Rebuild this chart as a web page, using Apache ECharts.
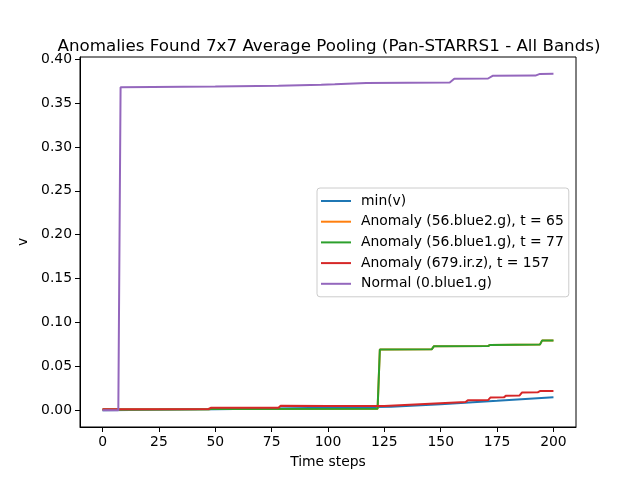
<!doctype html>
<html lang="en">
<head>
    <meta charset="UTF-8">
    <title>Anomalies Found 7x7 Average Pooling</title>
    <script src="https://cdn.jsdelivr.net/npm/echarts@6/dist/echarts.min.js"></script>
    <style>
        html, body { margin: 0; padding: 0; background: #fff; }
        #main { width: 640px; height: 480px; }
    </style>
</head>
<body>
<div id="main"></div>
<script type="text/javascript">
// data (time step, v)
var xTicks = [0, 25, 50, 75, 100, 125, 150, 175, 200];
var yTicks = [0, 0.05, 0.10, 0.15, 0.20, 0.25, 0.30, 0.35, 0.40];

var minT = [0, 25, 50, 75, 100, 128, 150, 175, 200];
var minV = [0.0000, 0.0004, 0.0010, 0.0018, 0.0028, 0.0038, 0.0068, 0.0107, 0.0148];

var blue2T = [0, 47, 48, 122, 123, 146, 147, 171, 172, 194, 195, 200];
var blue2V = [0.0008, 0.0009, 0.0012, 0.0017, 0.0692, 0.0693, 0.0729, 0.0731, 0.0744, 0.0747, 0.0795, 0.0795];

var blue1T = [0, 47, 48, 122, 123, 146, 147, 171, 172, 194, 195, 200];
var blue1V = [0.0008, 0.0009, 0.0012, 0.0017, 0.0692, 0.0693, 0.0729, 0.0731, 0.0744, 0.0747, 0.0795, 0.0795];

var irT = [0, 47, 48, 78, 79, 100, 125, 161, 162, 171, 172, 178, 179, 185, 186, 193, 194, 200];
var irV = [0.0011, 0.0013, 0.0026, 0.0028, 0.0049, 0.0047, 0.0048, 0.0093, 0.0112, 0.0115, 0.0143, 0.0146, 0.0165, 0.0168, 0.0200, 0.0203, 0.0217, 0.0218];

var normT = [0, 7, 8, 50, 78, 97, 103, 117, 154, 156, 171, 173, 192, 194, 200];
var normV = [0.0000, 0.0000, 0.3680, 0.3690, 0.3698, 0.3710, 0.3715, 0.3728, 0.3734, 0.3776, 0.3780, 0.3810, 0.3813, 0.3832, 0.3833];

var names = ['min(v)', 'Anomaly (56.blue2.g), t = 65', 'Anomaly (56.blue1.g), t = 77',
             'Anomaly (679.ir.z), t = 157', 'Normal (0.blue1.g)'];
var colors = ['#1f77b4', '#ff7f0e', '#2ca02c', '#d62728', '#9467bd'];

function pairs(t, v) {
    var out = [];
    for (var i = 0; i < t.length; i++) {
        out.push([t[i], v[i]]);
    }
    return out;
}

var allData = [pairs(minT, minV), pairs(blue2T, blue2V), pairs(blue1T, blue1V),
               pairs(irT, irV), pairs(normT, normV)];

var series = [];
for (var i = 0; i < names.length; i++) {
    series.push({
        name: names[i],
        type: 'line',
        data: allData[i],
        symbol: 'none',
        lineStyle: { color: colors[i], width: 2 },
        itemStyle: { color: colors[i] }
    });
}

var font = 'DejaVu Sans';
var myChart = echarts.init(document.getElementById('main'));

var option = {
    animation: false,
    backgroundColor: '#fff',
    textStyle: { fontFamily: font },
    title: {
        text: 'Anomalies Found 7x7 Average Pooling (Pan-STARRS1 - All Bands)',
        left: 324,
        top: 33,
        textAlign: 'center',
        textStyle: { fontFamily: font, fontSize: 16.7, fontWeight: 'normal', color: '#000' }
    },
    grid: {
        left: 80, right: 64, top: 57, bottom: 53,
        show: true, borderColor: '#000', borderWidth: 1,
        containLabel: false
    },
    legend: {
        orient: 'vertical',
        left: 317,
        top: 188,
        padding: [6, 5, 6, 4],
        itemGap: 6.7,
        itemWidth: 30,
        itemHeight: 2,
        icon: 'rect',
        borderColor: '#cccccc',
        borderWidth: 1,
        borderRadius: 3,
        backgroundColor: 'rgba(255,255,255,0.8)',
        textStyle: { fontFamily: font, fontSize: 13.9, lineHeight: 14, color: '#000', padding: [0, 0, 0, 5] },
        data: names
    },
    xAxis: {
        type: 'value',
        min: -10,
        max: 210,
        name: 'Time steps',
        nameLocation: 'middle',
        nameGap: 28,
        nameTextStyle: { fontFamily: font, fontSize: 13.9, color: '#000' },
        splitLine: { show: false },
        axisLine: { show: true, onZero: false, lineStyle: { color: '#000', width: 1 } },
        axisTick: { show: true, length: 5, customValues: xTicks, lineStyle: { color: '#000' } },
        axisLabel: { margin: 8, fontSize: 13.9, color: '#000', fontFamily: font, customValues: xTicks }
    },
    yAxis: {
        type: 'value',
        min: -0.0192,
        max: 0.4025,
        name: 'v',
        nameLocation: 'middle',
        nameGap: 45,
        nameTextStyle: { fontFamily: font, fontSize: 13.9, color: '#000' },
        splitLine: { show: false },
        axisLine: { show: true, onZero: false, lineStyle: { color: '#000', width: 1 } },
        axisTick: { show: true, length: 5, customValues: yTicks, lineStyle: { color: '#000' } },
        axisLabel: {
            margin: 8, fontSize: 13.9, color: '#000', fontFamily: font, customValues: yTicks,
            formatter: function (v) { return v.toFixed(2); }
        }
    },
    series: series
};

myChart.setOption(option);
</script>
</body>
</html>
